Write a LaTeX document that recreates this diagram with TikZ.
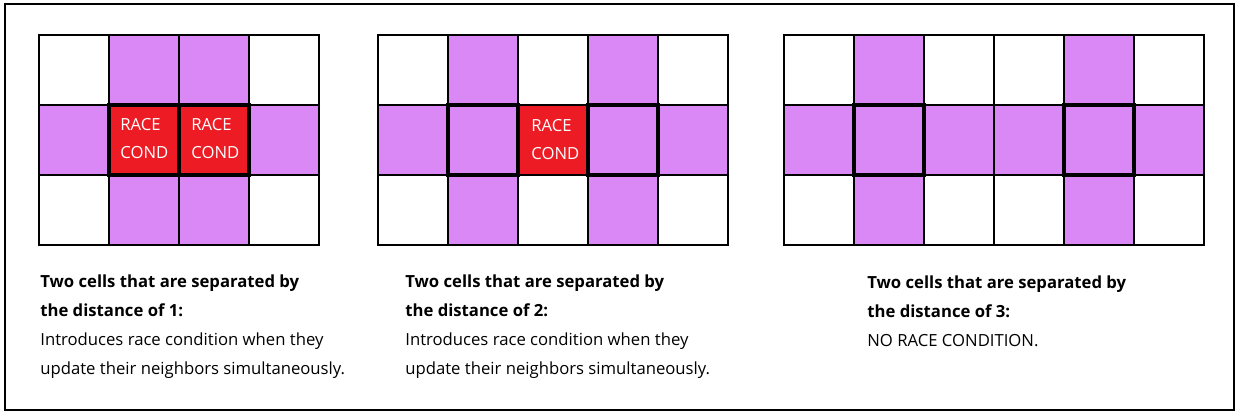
\documentclass[tikz,border=0pt]{standalone}
\usepackage{fontspec}
\setmainfont{Open Sans}
\usepackage{tikz}
\usetikzlibrary{positioning}
\definecolor{cellpurple}{RGB}{218,136,245}
\definecolor{cellred}{RGB}{237,28,36}
\tikzstyle{cell} = [draw = black, line width = 0.6pt]
\tikzstyle{heldcell} = [draw = black, line width = 1.9pt]
\tikzstyle{racetext} = [text = white, font = \fontsize{9.5}{15.9}\selectfont, align = left, inner sep = 0pt, anchor = base west]
\tikzstyle{caption} = [font = \fontsize{9.5}{16.4}\selectfont, align = left, inner sep = 0pt, anchor = base west]

\begin{document}
\begin{tikzpicture}[x = 0.02cm, y = -0.02cm]
			\useasboundingbox (0,0) rectangle (1241,416);
			
			% Outer frame
			\draw[line width = 0.6pt] (5,4) rectangle (1234,410);
			
			% Distance 1: cells and neighbours
			\foreach \c/\r in {1/0, 2/0, 0/1, 3/1, 1/2, 2/2}
				\fill[cellpurple] ({39 + 70*\c}, {35 + 70*\r}) rectangle ++(70,70);
			\foreach \c in {1, 2}
				\fill[cellred] ({39 + 70*\c}, 105) rectangle ++(70,70);
			\foreach \c in {0,...,3}
				\foreach \r in {0,1,2}
					\draw[cell] ({39 + 70*\c}, {35 + 70*\r}) rectangle ++(70,70);
			\draw[heldcell] (109,105) rectangle (179,175);
			\draw[heldcell] (179,105) rectangle (249,175);
			\node[racetext] (raceA) at (120,158) {RACE\\COND};
			\node[racetext] (raceB) at (191,158) {RACE\\COND};
			
			% Distance 2: cells and neighbours
			\foreach \c/\r in {1/0, 3/0, 0/1, 1/1, 3/1, 4/1, 1/2, 3/2}
				\fill[cellpurple] ({378 + 70*\c}, {35 + 70*\r}) rectangle ++(70,70);
			\fill[cellred] (518,105) rectangle ++(70,70);
			\foreach \c in {0,...,4}
				\foreach \r in {0,1,2}
					\draw[cell] ({378 + 70*\c}, {35 + 70*\r}) rectangle ++(70,70);
			\draw[heldcell] (448,105) rectangle (518,175);
			\draw[heldcell] (588,105) rectangle (658,175);
			\node[racetext] (raceC) at (531,159) {RACE\\COND};
			
			% Distance 3: cells and neighbours
			\foreach \c/\r in {1/0, 4/0, 0/1, 1/1, 2/1, 3/1, 4/1, 5/1, 1/2, 4/2}
				\fill[cellpurple] ({784 + 70*\c}, {35 + 70*\r}) rectangle ++(70,70);
			\foreach \c in {0,...,5}
				\foreach \r in {0,1,2}
					\draw[cell] ({784 + 70*\c}, {35 + 70*\r}) rectangle ++(70,70);
			\draw[heldcell] (854,105) rectangle (924,175);
			\draw[heldcell] (1064,105) rectangle (1134,175);
			
			% Captions
			\node[caption] (capA) at (40,374) {\textbf{Two cells that are separated by}\\\textbf{the distance of 1:}\\Introduces race condition when they\\update their neighbors simultaneously.};
			\node[caption] (capB) at (405,374) {\textbf{Two cells that are separated by}\\\textbf{the distance of 2:}\\Introduces race condition when they\\update their neighbors simultaneously.};
			\node[caption] (capC) at (867,346) {\textbf{Two cells that are separated by}\\\textbf{the distance of 3:}\\NO RACE CONDITION.};
		
		\end{tikzpicture}
\end{document}
